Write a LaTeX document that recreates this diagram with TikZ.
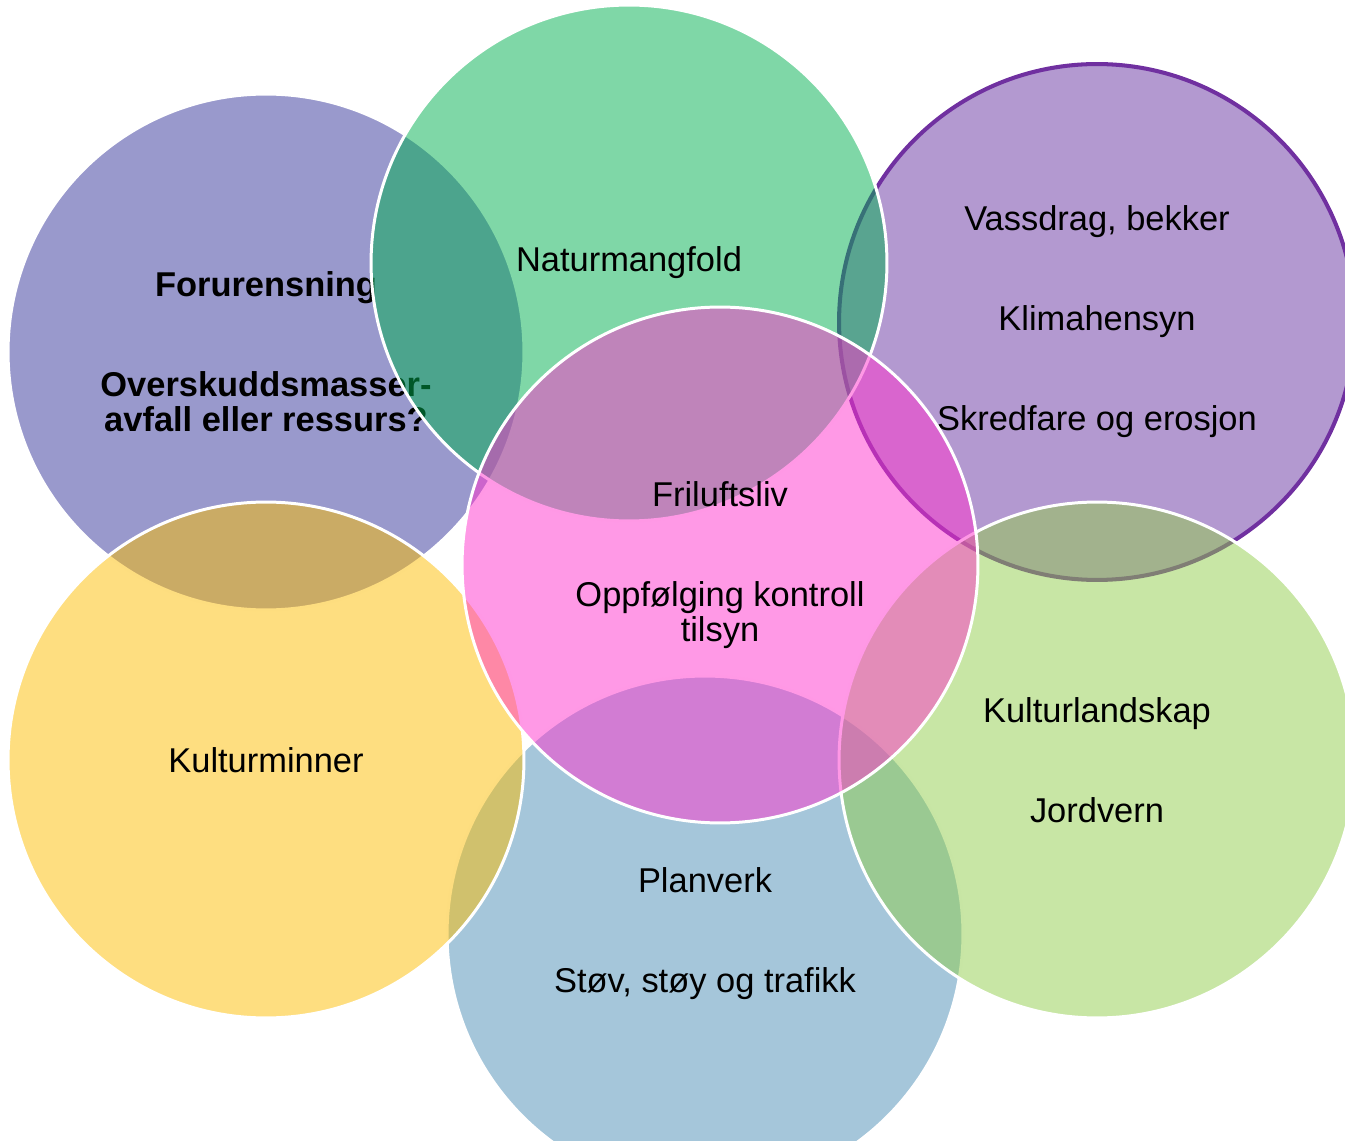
\documentclass[tikz,border=0pt]{standalone}
\usepackage{fontspec}
\setmainfont{Liberation Sans}
\definecolor{indigo}{RGB}{51,51,153}
\definecolor{grass}{RGB}{0,176,80}
\definecolor{lilac}{RGB}{103,51,161}
\definecolor{lilacline}{RGB}{112,48,160}
\definecolor{gold}{RGB}{253,189,1}
\definecolor{steel}{RGB}{75,141,181}
\definecolor{lime}{RGB}{145,205,75}
\definecolor{magenta2}{RGB}{255,51,205}
\begin{document}
\begin{tikzpicture}[x=0.02cm,y=-0.02cm,
	venn/.style={circle,minimum size=10.32cm,inner sep=0pt,draw=white,line width=1.7pt,
		fill opacity=0.5,text opacity=1,align=center,
		font=\fontsize{19.6pt}{19.9pt}\selectfont}]
			\useasboundingbox (0,0) rectangle (1345,1141);
			\clip (0,0) rectangle (1345,1141);
			% outer ring
			\node[venn,fill=indigo] (forurensning) at(266,352){\textbf{Forurensning}\\[37pt]\textbf{Overskuddsmasser-}\\\textbf{avfall eller ressurs?}};
			\node[venn,fill=lilac,draw=lilacline,line width=2.3pt] (vassdrag) at(1097,322){Vassdrag, bekker\\[37pt]Klimahensyn\\[37pt]Skredfare og erosjon};
			\node[venn,fill=grass] (naturmangfold) at(629,263){Naturmangfold};
			\node[venn,fill=steel] (planverk) at(705,934){Planverk\\[37pt]Støv, støy og trafikk};
			\node[venn,fill=gold] (kulturminner) at(266,760){Kulturminner};
			\node[venn,fill=lime] (kulturlandskap) at(1097,760){Kulturlandskap\\[37pt]Jordvern};
			% centre
			\node[venn,fill=magenta2] (friluftsliv) at(720,565){Friluftsliv\\[37pt]Oppfølging kontroll\\tilsyn};
\end{tikzpicture}
\end{document}
